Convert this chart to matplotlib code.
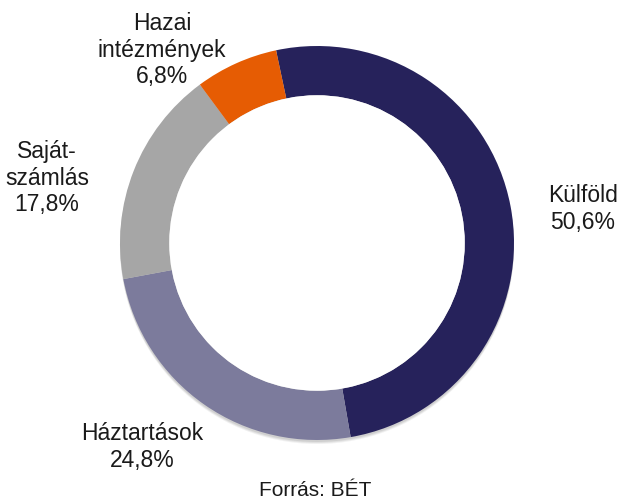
import matplotlib.pyplot as plt
from matplotlib.patches import Circle

# share of turnover by investor group (BÉT)
labels = ['Külföld', 'Háztartások', 'Saját-\nszámlás', 'Hazai\nintézmények']
shares = [50.6, 24.8, 17.8, 6.8]
colors = ['#26225b', '#7c7b9c', '#a6a6a6', '#e65c03']

plt.rcParams['font.family'] = ['Liberation Sans', 'DejaVu Sans']

fig = plt.figure(figsize=(6.22, 5.01), dpi=100)
ax = fig.add_axes([0, 0, 1, 1])

W, H = 622, 501
cx, cy, r = 317, H - 243, 197

# soft shadow under the ring
for off, a in [(4, 0.08), (3, 0.10), (2, 0.12)]:
    ax.add_patch(Circle((cx, cy - off), r, facecolor='#555555', alpha=a,
                        edgecolor='none', zorder=0))

ax.pie(shares, colors=colors, startangle=102, counterclock=False,
       center=(cx, cy), radius=r,
       wedgeprops=dict(width=r * 0.25, linewidth=0, zorder=1))

# cover the shadow inside the hole
ax.add_patch(Circle((cx, cy), r * 0.75, facecolor='white', edgecolor='none',
                    zorder=2))

ax.set_xlim(0, W)
ax.set_ylim(0, H)
ax.set_aspect('equal')
ax.axis('off')

# label positions in pixel coordinates (x, y from top)
label_pos = [(583, 209), (142, 447), (47, 178), (162, 50)]
for lab, val, (x, y) in zip(labels, shares, label_pos):
    txt = lab + '\n' + ('%.1f%%' % val).replace('.', ',')
    ax.text(x, H - y, txt, ha='center', va='center', fontsize=16.5,
            color='#1a1a1a', linespacing=1.18)

ax.text(315, H - 490, 'Forrás: BÉT', ha='center', va='center',
        fontsize=15, color='#1a1a1a')

fig.savefig('out.png', dpi=100)
